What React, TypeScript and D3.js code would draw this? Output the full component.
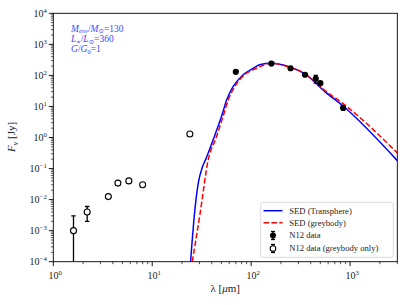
import React from 'react';
import * as d3 from 'd3';

// SED curves (lambda in micron, F_nu in Jy)
const transLam = [24.4, 27, 29.2, 32.3, 34.5, 41.3, 50.2, 56.5, 65.8, 83, 105, 122, 160, 245, 350, 555, 843, 3000];
const transF = [1e-4, 0.0048, 0.034, 0.117, 0.19, 0.85, 4.8, 16, 44, 105, 170, 220, 245, 186, 112, 30, 10.5, 0.18];

const greyLam = [25.4, 30.3, 36.8, 44.7, 52, 58.6, 68.4, 86, 113, 160, 245, 350, 555, 843, 3000];
const greyF = [1e-4, 0.0032, 0.19, 1.07, 4.8, 16, 44, 105, 170, 245, 182, 112, 33, 12.6, 0.32];

// N12 photometry
const dataLam = [70, 160, 250, 350, 450, 500, 850];
const dataF = [130, 240, 170, 105, 78, 56, 9];
const dataErr = [13, 24, 17, 10, 22, 6, 1.5];

// N12 points used only for the greybody
const greyOnlyLam = [1.6, 2.2, 3.6, 4.5, 5.8, 8, 24];
const greyOnlyF = [0.001, 0.004, 0.0125, 0.034, 0.04, 0.03, 1.3];
const greyOnlyErr = [0.002, 0.002, 0, 0, 0, 0, 0];

const yTickExp = [-4, -3, -2, -1, 0, 1, 2, 3, 4];
const xTickExp = [0, 1, 2, 3];

const legendLabels = ['SED (Transphere)', 'SED (greybody)', 'N12 data', 'N12 data (greybody only)'];

const W = 407;
const H = 305;
const x0 = 53.3, x1 = 397.3, y0 = 13.3, y1 = 261.7;
const serif = "'Liberation Serif', 'DejaVu Serif', serif";

const Pow = ({ e }: { e: number }) => (
  <>
    10<tspan dy={-4} fontSize={6.8}>{e < 0 ? '\u2212' + Math.abs(e) : e}</tspan>
  </>
);

export default function App() {
  const x = d3.scaleLog().domain([1, 3000]).range([x0, x1]);
  const y = d3.scaleLog().domain([1e-4, 1e4]).range([y1, y0]);

  const line = d3.line<[number, number]>()
    .x(d => x(d[0]))
    .y(d => y(d[1]))
    .curve(d3.curveMonotoneX);

  const transPath = line(transLam.map((l, i) => [l, transF[i]]) as [number, number][]) || '';
  const greyPath = line(greyLam.map((l, i) => [l, greyF[i]]) as [number, number][]) || '';

  const xMinor: number[] = [];
  for (let e = 0; e <= 3; e++) for (let m = 2; m <= 9; m++) {
    const v = m * Math.pow(10, e);
    if (v <= 3000) xMinor.push(v);
  }
  const yMinor: number[] = [];
  for (let e = -4; e < 4; e++) for (let m = 2; m <= 9; m++) yMinor.push(m * Math.pow(10, e));

  const errY = (v: number) => (v <= 0 ? y1 + 20 : y(v));

  const legX = 260.7, legY = 202.3, legW = 132.6, legH = 55;
  const rowY = [210.7, 222.7, 235.5, 248.5];

  return (
    <svg width={W} height={H} style={{ position: 'absolute', left: 0, top: 0, background: '#fff' }}
      fontFamily={serif}>
      <defs>
        <clipPath id="plot">
          <rect x={x0} y={y0} width={x1 - x0} height={y1 - y0} />
        </clipPath>
      </defs>

      <g clipPath="url(#plot)">
        <path d={transPath} fill="none" stroke="#0000ff" strokeWidth={1.5} />
        <path d={greyPath} fill="none" stroke="#ff0000" strokeWidth={1.5} strokeDasharray="5.5,2.4" />

        {greyOnlyLam.map((l, i) => {
          const cx = x(l);
          const e = greyOnlyErr[i];
          return (
            <g key={'o' + i}>
              {e > 0 && (
                <>
                  <line x1={cx} x2={cx} y1={y(greyOnlyF[i] + e)} y2={errY(greyOnlyF[i] - e)} stroke="#000" strokeWidth={1.3} />
                  <line x1={cx - 2.2} x2={cx + 2.2} y1={y(greyOnlyF[i] + e)} y2={y(greyOnlyF[i] + e)} stroke="#000" strokeWidth={1.3} />
                  {greyOnlyF[i] - e > 0 && (
                    <line x1={cx - 2.2} x2={cx + 2.2} y1={y(greyOnlyF[i] - e)} y2={y(greyOnlyF[i] - e)} stroke="#000" strokeWidth={1.3} />
                  )}
                </>
              )}
              <circle cx={cx} cy={y(greyOnlyF[i])} r={3} fill="#fff" stroke="#000" strokeWidth={1.1} />
            </g>
          );
        })}

        {dataLam.map((l, i) => {
          const cx = x(l);
          const hi = y(dataF[i] + dataErr[i]);
          const lo = y(dataF[i] - dataErr[i]);
          return (
            <g key={'d' + i}>
              <line x1={cx} x2={cx} y1={hi} y2={lo} stroke="#000" strokeWidth={1.3} />
              <line x1={cx - 2.2} x2={cx + 2.2} y1={hi} y2={hi} stroke="#000" strokeWidth={1.3} />
              <line x1={cx - 2.2} x2={cx + 2.2} y1={lo} y2={lo} stroke="#000" strokeWidth={1.3} />
              <circle cx={cx} cy={y(dataF[i])} r={3.1} fill="#000" />
            </g>
          );
        })}
      </g>

      {/* frame */}
      <rect x={x0} y={y0} width={x1 - x0} height={y1 - y0} fill="none" stroke="#000" strokeWidth={0.9} />

      {/* x ticks */}
      {xTickExp.map(e => (
        <g key={'xt' + e}>
          <line x1={x(Math.pow(10, e))} x2={x(Math.pow(10, e))} y1={y1} y2={y1 + 4.5} stroke="#000" strokeWidth={0.9} />
          <text x={x(Math.pow(10, e)) + 2} y={y1 + 17} fontSize={10} textAnchor="middle" fill="#222"><Pow e={e} /></text>
        </g>
      ))}
      {xMinor.map((v, i) => (
        <line key={'xm' + i} x1={x(v)} x2={x(v)} y1={y1} y2={y1 + 2.5} stroke="#000" strokeWidth={0.7} />
      ))}

      {/* y ticks */}
      {yTickExp.map(e => (
        <g key={'yt' + e}>
          <line x1={x0 - 4.5} x2={x0} y1={y(Math.pow(10, e))} y2={y(Math.pow(10, e))} stroke="#000" strokeWidth={0.9} />
          <text x={x0 - 6.5} y={y(Math.pow(10, e)) + 3.5} fontSize={10} textAnchor="end" fill="#222"><Pow e={e} /></text>
        </g>
      ))}
      {yMinor.map((v, i) => (
        <line key={'ym' + i} x1={x0 - 2.5} x2={x0} y1={y(v)} y2={y(v)} stroke="#000" strokeWidth={0.6} />
      ))}

      {/* axis labels */}
      <text x={(x0 + x1) / 2} y={292} fontSize={11} textAnchor="middle" fill="#222">
        λ [<tspan fontStyle="italic">μ</tspan>m]
      </text>
      <text transform={`translate(15,${137}) rotate(-90)`} fontSize={11} textAnchor="middle" fill="#222">
        <tspan fontStyle="italic">F</tspan><tspan fontStyle="italic" fontSize={8} dy={2.5}>ν</tspan><tspan dy={-2.5}> [Jy]</tspan>
      </text>

      {/* annotation */}
      <g fill="#4646ff" fontSize={9.5}>
        <text x={71} y={31.5}>
          <tspan fontStyle="italic">M</tspan><tspan fontStyle="italic" fontSize={6.5} dy={1.8}>env</tspan>
          <tspan dy={-1.8}>/</tspan><tspan fontStyle="italic">M</tspan><tspan fontSize={6.5} dy={1.8}>⊙</tspan>
          <tspan dy={-1.8}>=130</tspan>
        </text>
        <text x={71} y={42}>
          <tspan fontStyle="italic">L</tspan><tspan fontSize={6.5} dy={1.8}>∗</tspan>
          <tspan dy={-1.8}>/</tspan><tspan fontStyle="italic">L</tspan><tspan fontSize={6.5} dy={1.8}>⊙</tspan>
          <tspan dy={-1.8}>=360</tspan>
        </text>
        <text x={71} y={52}>
          <tspan fontStyle="italic">G</tspan>/<tspan fontStyle="italic">G</tspan><tspan fontSize={6.5} dy={1.8}>0</tspan>
          <tspan dy={-1.8}>=1</tspan>
        </text>
      </g>

      {/* legend */}
      <rect x={legX} y={legY} width={legW} height={legH} rx={2} fill="#fff" fillOpacity={0.85} stroke="#d0d0d0" strokeWidth={0.8} />
      <line x1={263.5} x2={282.5} y1={rowY[0]} y2={rowY[0]} stroke="#0000ff" strokeWidth={1.5} />
      <line x1={263.5} x2={282.5} y1={rowY[1]} y2={rowY[1]} stroke="#ff0000" strokeWidth={1.5} strokeDasharray="5.5,2.4" />
      <g>
        <line x1={273} x2={273} y1={rowY[2] - 4} y2={rowY[2] + 4} stroke="#000" strokeWidth={1.3} />
        <line x1={271} x2={275} y1={rowY[2] - 4} y2={rowY[2] - 4} stroke="#000" strokeWidth={1.3} />
        <line x1={271} x2={275} y1={rowY[2] + 4} y2={rowY[2] + 4} stroke="#000" strokeWidth={1.3} />
        <circle cx={273} cy={rowY[2]} r={3} fill="#000" />
      </g>
      <g>
        <line x1={273} x2={273} y1={rowY[3] - 4} y2={rowY[3] + 4} stroke="#000" strokeWidth={1.3} />
        <line x1={271} x2={275} y1={rowY[3] - 4} y2={rowY[3] - 4} stroke="#000" strokeWidth={1.3} />
        <line x1={271} x2={275} y1={rowY[3] + 4} y2={rowY[3] + 4} stroke="#000" strokeWidth={1.3} />
        <circle cx={273} cy={rowY[3]} r={2.8} fill="#fff" stroke="#000" strokeWidth={1.1} />
      </g>
      {legendLabels.map((t, i) => (
        <text key={t} x={289.3} y={rowY[i] + 2.8} fontSize={8.6} fill="#222">{t}</text>
      ))}
    </svg>
  );
}
